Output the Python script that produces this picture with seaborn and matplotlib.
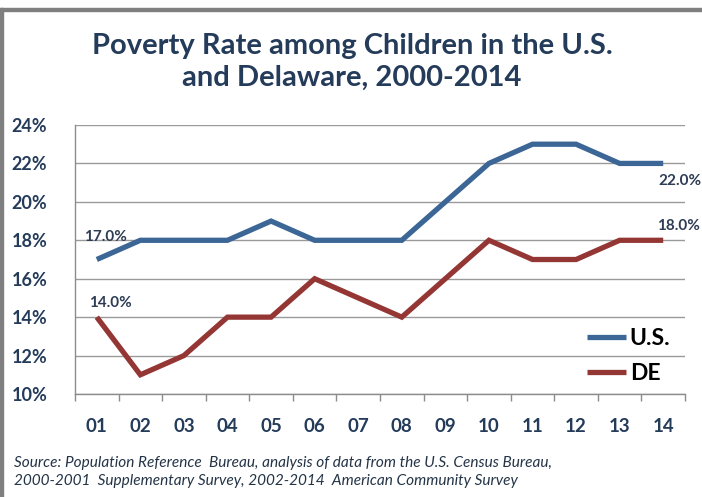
import matplotlib
matplotlib.use("Agg")
import matplotlib.pyplot as plt
from matplotlib.patches import Rectangle
from matplotlib.ticker import FixedLocator, FuncFormatter
import numpy as np
import pandas as pd
import seaborn as sns

years = ["01", "02", "03", "04", "05", "06", "07", "08", "09", "10", "11", "12", "13", "14"]
us_rate = [17, 18, 18, 18, 19, 18, 18, 18, 20, 22, 23, 23, 22, 22]
de_rate = [14, 11, 12, 14, 14, 16, 15, 14, 16, 18, 17, 17, 18, 18]
series_names = ["U.S.", "DE"]
y_ticks = [10, 12, 14, 16, 18, 20, 22, 24]

title = "Poverty Rate among Children in the U.S.\nand Delaware, 2000-2014"
source = ("Source: Population Reference  Bureau, analysis of data from the U.S. Census Bureau,\n"
          "2000-2001  Supplementary Survey, 2002-2014  American Community Survey")

df = pd.DataFrame({
    "pos": list(range(len(years))) * 2,
    "rate": us_rate + de_rate,
    "series": [series_names[0]] * len(years) + [series_names[1]] * len(years),
})

sns.set_theme(style="white")
plt.rcParams["font.family"] = ["Lato", "DejaVu Sans"]

navy = "#243B5A"
colors = {"U.S.": "#3B6696", "DE": "#943634"}

fig = plt.figure(figsize=(7.02, 4.97), dpi=100)
ax = fig.add_axes([75 / 702, 1 - 394 / 497, 610 / 702, 269 / 497])

sns.lineplot(data=df, x="pos", y="rate", hue="series", palette=colors,
             linewidth=3.8, ax=ax, legend=False)
for ln in ax.lines:
    ln.set_solid_capstyle("butt")
    ln.set_solid_joinstyle("miter")

ax.set_xlim(-0.5, len(years) - 0.5)
ax.set_ylim(10, 24)
ax.yaxis.set_major_locator(FixedLocator(y_ticks))
ax.yaxis.set_major_formatter(FuncFormatter(lambda v, _: f"{v:.0f}%"))
ax.xaxis.set_major_locator(FixedLocator(list(range(len(years)))))
ax.set_xticklabels(years)
ax.xaxis.set_minor_locator(FixedLocator(np.arange(-0.5, len(years), 1.0)))
ax.tick_params(axis="x", which="major", length=0, pad=17, labelsize=13.5, labelcolor=navy)
ax.tick_params(axis="x", which="minor", length=5, width=1, color="#8C8C8C", direction="out", bottom=True)
ax.tick_params(axis="y", length=0, pad=20, labelsize=13, labelcolor=navy)
for lab in ax.get_xticklabels() + ax.get_yticklabels():
    lab.set_fontweight("bold")
ax.set_xlabel("")
ax.set_ylabel("")

ax.grid(axis="y", color="#9A9A9A", linewidth=1)
ax.set_axisbelow(True)
for side in ["top", "right"]:
    ax.spines[side].set_visible(False)
for side in ["left", "bottom"]:
    ax.spines[side].set_color("#8C8C8C")
    ax.spines[side].set_linewidth(1)

# value labels at the first and last points
lab_kw = dict(fontsize=11, fontweight="bold", color="#2E3D55")
ax.annotate(f"{us_rate[0]:.1f}%", (0, us_rate[0]), xytext=(6, 16), textcoords="offset points",
            ha="center", va="center", **lab_kw)
ax.annotate(f"{de_rate[0]:.1f}%", (0, de_rate[0]), xytext=(10, 10), textcoords="offset points",
            ha="center", va="center", **lab_kw)
ax.annotate(f"{us_rate[-1]:.1f}%", (len(years) - 1, us_rate[-1]), xytext=(12, -13), textcoords="offset points",
            ha="center", va="center", **lab_kw)
ax.annotate(f"{de_rate[-1]:.1f}%", (len(years) - 1, de_rate[-1]), xytext=(11, 10), textcoords="offset points",
            ha="center", va="center", **lab_kw)

handles = [plt.Line2D([], [], color=colors[n], linewidth=3.8, solid_capstyle="butt") for n in series_names]
leg = ax.legend(handles, series_names, loc="lower right", bbox_to_anchor=(1.01, -0.04),
                frameon=False, handlelength=1.7, handletextpad=0.15, labelspacing=0.6,
                prop={"size": 16.5, "weight": "bold"})
for t in leg.get_texts():
    t.set_color("black")

fig.text(352 / 702, 1 - 62 / 497, title, ha="center", va="center", fontsize=21,
         fontweight="bold", color=navy, linespacing=1.25)
fig.text(14 / 702, 1 - 472 / 497, source, ha="left", va="center", fontsize=11.1,
         style="italic", color="#243447", linespacing=1.45)

# outer frame along the top and left edges
fig.patches.append(Rectangle((0, 1 - 11 / 497), 1, 3 / 497, transform=fig.transFigure,
                             color="#7F7F7F", zorder=5))
fig.patches.append(Rectangle((0, 0), 3 / 702, 1 - 8 / 497, transform=fig.transFigure,
                             color="#7F7F7F", zorder=5))

fig.savefig("out.png", dpi=100)
